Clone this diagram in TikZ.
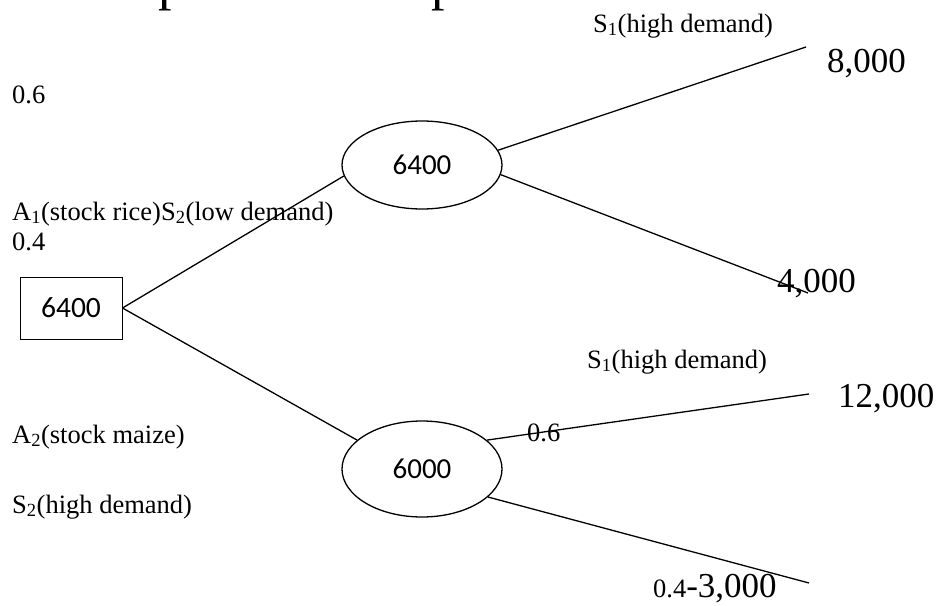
\documentclass[tikz,border=0pt]{standalone}
\usepackage{fontspec}
\setmainfont{Liberation Serif}
\newfontfamily\calibri{Carlito}
\usetikzlibrary{shapes}
\usetikzlibrary{positioning}

\begin{document}
\begin{tikzpicture}[x=1pt,y=-1pt]
\tikzstyle{decision} = [rectangle, draw=black, line width=1pt, minimum width=102pt, minimum height=62pt, inner sep=0pt, font=\calibri\fontsize{29.5}{35}\selectfont]
\tikzstyle{chance} = [ellipse, draw=black, line width=1.3pt, minimum width=160pt, minimum height=90pt, inner sep=0pt, font=\calibri\fontsize{29}{35}\selectfont]
\tikzstyle{lbl} = [anchor=base west, inner sep=0pt, font=\fontsize{26.5}{32}\selectfont]
\tikzstyle{payoff} = [anchor=base west, inner sep=0pt, font=\fontsize{35}{42}\selectfont]
\tikzstyle{branch} = [draw, line width=1.3pt]
\useasboundingbox (0,0) rectangle (942,605);
\clip (0,0) rectangle (942,605);
% cut-off line at the top
\node [payoff, font=\fontsize{54}{60}\selectfont] (cuta) at (158,-1) {p};
\node [payoff, font=\fontsize{54}{60}\selectfont] (cutb) at (431,-1) {p};
% nodes
\node [decision] (start) at (71,308) {6400};
\node [chance, minimum height=88pt] (rice) at (422,165) {6400};
\node [chance, minimum height=96pt] (maize) at (422,469) {6000};
\coordinate (endhi1) at (806,47);
\coordinate (endlo1) at (808,293);
\coordinate (endhi2) at (809,394);
\coordinate (endlo2) at (809,583);
% texts
\node [lbl] (sone) at (593,32) {S\textsubscript{1}(high demand)};
\node [payoff] (pay1) at (827,72) {8,000};
\node [lbl] (pone) at (12,103) {0.6};
\node [lbl] (aone) at (12,220) {A\textsubscript{1}(stock rice)S\textsubscript{2}(low demand)};
\node [lbl] (ptwo) at (12,250) {0.4};
\node [payoff] (pay2) at (777,292) {4,000};
\node [lbl] (sthree) at (587,368) {S\textsubscript{1}(high demand)};
\node [payoff] (pay3) at (838,407) {12,000};
\node [lbl] (atwo) at (12,443) {A\textsubscript{2}(stock maize)};
\node [lbl] (pthree) at (527,441) {0.6};
\node [lbl] (sfour) at (12,513) {S\textsubscript{2}(high demand)};
\node [payoff] (pay4) at (653,597) {{\fontsize{26.5}{32}\selectfont 0.4}-3,000};
% branches
\draw [branch] (start.east) -- (rice.188);
\draw [branch] (start.east) -- (maize.156);
\draw [branch] (rice.11) -- (endhi1);
\draw [branch] (rice.353) -- (endlo1);
\draw [branch] (maize.24) -- (endhi2);
\draw [branch] (maize.337) -- (endlo2);
\end{tikzpicture}
\end{document}
